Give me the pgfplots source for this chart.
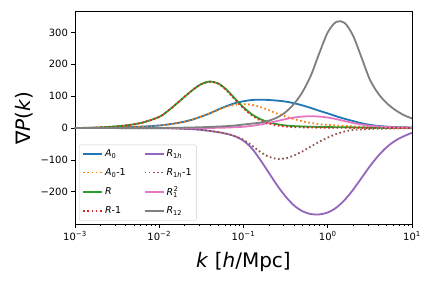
\documentclass[border=0pt]{standalone}
\usepackage{fontspec}
\setmainfont{DejaVu Sans}
\usepackage{pgfplots}
\pgfplotsset{compat=1.18}
\definecolor{C0}{HTML}{1F77B4}
\definecolor{C1}{HTML}{FF7F0E}
\definecolor{C2}{HTML}{2CA02C}
\definecolor{C3}{HTML}{D62728}
\definecolor{C4}{HTML}{9467BD}
\definecolor{C5}{HTML}{8C564B}
\definecolor{C6}{HTML}{E377C2}
\definecolor{C7}{HTML}{7F7F7F}
\begin{document}
\begin{tikzpicture}
\useasboundingbox (-75pt,-63.7pt) rectangle (357pt,224.3pt);
\begin{axis}[
  scale only axis, width=337pt, height=212.6pt,
  at={(0pt,0pt)}, anchor=south west,
  xmode=log, xmin=1e-3, xmax=10, ymin=-302, ymax=365,
  axis line style={line width=0.8pt},
  tick align=outside, tick pos=left,
  major tick length=3.5pt, minor tick length=2pt,
  every tick/.style={black, line width=0.8pt},
  minor tick style={line width=0.6pt},
  xtick={1e-3,1e-2,1e-1,1,10},
  xticklabels={10\textsuperscript{−3},10\textsuperscript{−2},10\textsuperscript{−1},10\textsuperscript{0},10\textsuperscript{1}},
  ytick={-200,-100,0,100,200,300},
  yticklabels={−200,−100,0,100,200,300},
  ticklabel style={font=\fontsize{10}{12}\selectfont},
  xlabel={\textit{k} [\textit{h}/Mpc]},
  xlabel style={font=\fontsize{20}{24}\selectfont, at={(axis description cs:0.5,-0.179)}, anchor=center},
  ylabel={∇\textit{P}(\textit{k})},
  ylabel style={font=\fontsize{20}{24}\selectfont, at={(axis description cs:-0.151,0.5)}, anchor=center, rotate=0},
  legend columns=2,
  legend cell align=left,
  legend style={at={(axis description cs:0.012,0.017)}, anchor=south west,
    font=\fontsize{9.5}{11}\selectfont, draw=black!20, rounded corners=2pt,
    fill=white, fill opacity=0.8, text opacity=1, draw opacity=1,
    inner xsep=3pt, inner ysep=3pt, row sep=6pt,
    /tikz/every even column/.append style={column sep=16pt}},
  legend image code/.code={\draw[#1, opacity=1] (0pt,0pt) -- (19pt,0pt);},
  every axis plot/.append style={line width=1.8pt, smooth, tension=0.5},
  dt/.style={dash pattern=on 1.6pt off 2.6pt},
]
% A0
\addplot[C0] table[x expr=10^\thisrow{L}, y=v] {
L v
-3 0
-2.8 0.5
-2.6 1.2
-2.4 2.8
-2.2 4.5
-2.0 8
-1.9 11
-1.8 15
-1.7 20
-1.6 27
-1.5 36
-1.4 46
-1.3 58
-1.2 69
-1.1 78
-1.0 84
-0.9 88
-0.8 89
-0.7 88
-0.6 86
-0.5 83
-0.4 78
-0.3 71
-0.2 63
-0.1 54
0.0 46
0.1 37
0.2 29
0.3 22
0.4 15
0.5 10
0.6 6.5
0.7 4.5
0.8 3
0.9 2.2
1.0 1.8
};
\addlegendentry{\textit{A}\textsubscript{0}}
% R1h
\addplot[C4] table[x expr=10^\thisrow{L}, y=v] {
L v
-3 0
-2.0 -0.5
-1.8 -1.5
-1.6 -3.5
-1.5 -6
-1.4 -9
-1.3 -13
-1.2 -18
-1.1 -26
-1.0 -40
-0.9 -64
-0.8 -100
-0.7 -140
-0.6 -180
-0.5 -215
-0.4 -243
-0.3 -261
-0.2 -270
-0.1 -271
0.0 -265
0.1 -250
0.2 -226
0.3 -194
0.4 -157
0.5 -120
0.6 -87
0.7 -60
0.8 -40
0.9 -26
1.0 -15
};
\addlegendentry{\textit{R}\textsubscript{1\textit{h}}}
% A0-1
\addplot[C1, dt] table[x expr=10^\thisrow{L}, y=v] {
L v
-3 0
-2.8 0.5
-2.6 1.2
-2.4 2.8
-2.2 4.5
-2.0 8
-1.9 11
-1.8 15
-1.7 20
-1.6 27
-1.5 36
-1.4 46
-1.3 57
-1.2 67
-1.1 73
-1.0 75
-0.9 73
-0.8 66
-0.7 56
-0.6 45
-0.5 36
-0.4 28
-0.3 21
-0.2 16
-0.1 12
0.0 10
0.2 7
0.4 4
0.6 2.5
0.8 1.5
1.0 1
};
\addlegendentry{\textit{A}\textsubscript{0}-1}
% R1h-1
\addplot[C5, dt] table[x expr=10^\thisrow{L}, y=v] {
L v
-3 0
-2.0 -0.5
-1.8 -1.5
-1.6 -3.5
-1.5 -6
-1.4 -9
-1.3 -13
-1.2 -18
-1.1 -26
-1.0 -37
-0.9 -55
-0.8 -75
-0.7 -90
-0.6 -97
-0.5 -95
-0.4 -86
-0.3 -73
-0.2 -58
-0.1 -43
0.0 -30
0.1 -19
0.2 -11
0.3 -6
0.5 -3
0.7 -1.5
1.0 -0.5
};
\addlegendentry{\textit{R}\textsubscript{1\textit{h}}-1}
% R
\addplot[C2] table[x expr=10^\thisrow{L}, y=v] {
L v
-3 0
-2.8 1
-2.6 3.5
-2.4 8
-2.2 17
-2.0 35
-1.9 53
-1.8 75
-1.7 98
-1.6 120
-1.5 138
-1.4 146
-1.3 140
-1.2 120
-1.1 92
-1.0 65
-0.9 43
-0.8 28
-0.7 18
-0.6 12
-0.5 8
-0.4 6
-0.2 4
0.0 3
0.3 2
0.6 1
1.0 0.5
};
\addlegendentry{\textit{R}}
% R1^2
\addplot[C6] table[x expr=10^\thisrow{L}, y=v] {
L v
-3 0
-1.5 0.3
-1.2 1.5
-1.0 4
-0.9 7
-0.8 11
-0.7 16
-0.6 22
-0.5 28
-0.4 33
-0.3 36
-0.2 37
-0.1 36
0.0 33
0.1 28
0.2 22
0.3 16
0.4 11
0.5 7
0.6 5
0.8 2
1.0 1
};
\addlegendentry{\textit{R}\textsubscript{1}\kern-0.42em\textsuperscript{2}}
% R-1
\addplot[C3, dt] table[x expr=10^\thisrow{L}, y=v] {
L v
-3 0
-2.8 1
-2.6 3.5
-2.4 8
-2.2 17
-2.0 35
-1.9 53
-1.8 75
-1.7 98
-1.6 120
-1.5 138
-1.4 145
-1.3 139
-1.2 118
-1.1 89
-1.0 62
-0.9 40
-0.8 24
-0.7 14
-0.6 8
-0.5 5
-0.4 3
-0.2 1.5
0.0 1
0.5 0.3
1.0 0
};
\addlegendentry{\textit{R}-1}
% R12
\addplot[C7] table[x expr=10^\thisrow{L}, y=v] {
L v
-3 0
-2.5 0
-2.0 0.3
-1.8 0.8
-1.6 1.8
-1.4 3.5
-1.2 6
-1.1 8
-1.0 11
-0.9 14
-0.8 17
-0.7 23
-0.6 33
-0.5 50
-0.4 76
-0.3 113
-0.2 165
-0.1 235
0.0 300
0.1 333
0.2 330
0.3 290
0.4 222
0.5 152
0.6 108
0.7 78
0.8 57
0.9 41
1.0 30
};
\addlegendentry{\textit{R}\textsubscript{12}}
\end{axis}
\end{tikzpicture}
\end{document}
